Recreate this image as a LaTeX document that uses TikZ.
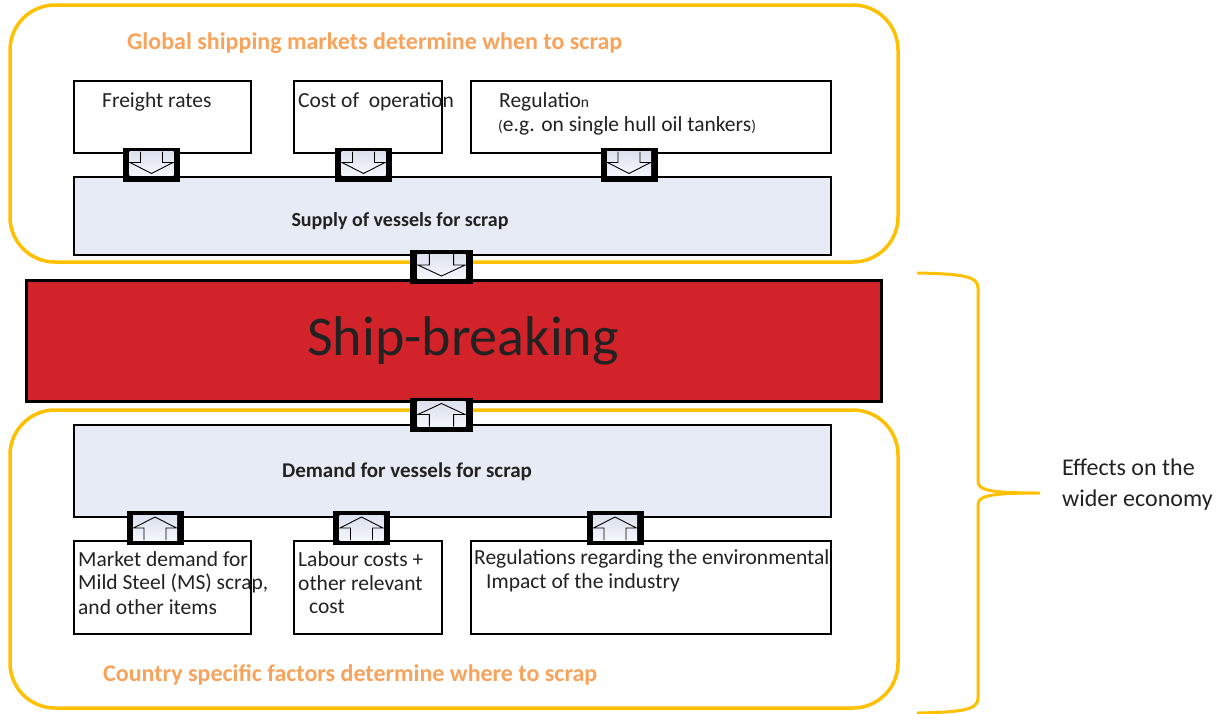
\documentclass[tikz,border=0pt]{standalone}
\usepackage{fontspec}
\setmainfont{Carlito}
\usetikzlibrary{calc}
\definecolor{gold}{RGB}{255,192,0}
\definecolor{orangetxt}{RGB}{248,163,92}
\definecolor{boxfill}{RGB}{231,235,245}
\definecolor{arrfill}{RGB}{220,225,238}
\definecolor{arrtop}{RGB}{244,246,251}
\definecolor{shipred}{RGB}{210,35,42}
\definecolor{txt}{RGB}{34,34,34}
\newcommand{\fsz}[1]{\fontsize{#1}{#1}\selectfont}
\tikzset{
  frame/.style={draw=gold, line width=3.5pt, rounded corners=45pt},
  factor/.style={draw=black, line width=1.8pt, fill=white, anchor=north west, inner sep=0pt},
  stage/.style={draw=black, line width=2pt, fill=boxfill, anchor=north west, inner sep=0pt},
  lbl/.style={anchor=west, inner sep=0pt, text=txt, font=\fsz{21.5}},
  ttl/.style={anchor=west, inner sep=0pt, text=orangetxt, font=\fsz{24}\bfseries},
  arrshade/.style={top color=arrfill, bottom color=arrtop},
  dnarr/.pic={
    \fill[black] (-28.5,-17) rectangle (28.5,17);
    \fill[arrshade] (-22,-13) rectangle (22,11);
    \draw[line width=0.9pt, arrshade, line join=miter]
      (-11,-13) -- (-11,-2) -- (-21.5,-2) -- (0,9) -- (21.5,-2) -- (11,-2) -- (11,-13);
  },
  uparr/.pic={
    \fill[black] (-28.5,-16) rectangle (28.5,18);
    \fill[arrshade] (-22,-12) rectangle (22,13);
    \draw[line width=0.9pt, arrshade, line join=miter]
      (-11,13) -- (-11,1) -- (-21.5,1) -- (0,-10) -- (21.5,1) -- (11,1) -- (11,13);
  }
}
\begin{document}
\begin{tikzpicture}[x=1pt,y=-1pt]
\useasboundingbox (0,0) rectangle (1219,713);
% frames
\draw[frame] (10,5) rectangle (898,262);
\draw[frame] (10,410) rectangle (898,708);
% titles
\node[ttl] (t1) at (127,43) {Global shipping markets determine when to scrap};
\node[ttl] (t2) at (103,675) {Country specific factors determine where to scrap};
% top factor boxes
\node[factor, minimum width=177pt, minimum height=72pt] (fr) at (73,80) {};
\node[factor, minimum width=148pt, minimum height=72pt] (co) at (293,80) {};
\node[factor, minimum width=360pt, minimum height=72pt] (rg) at (470,80) {};
\node[lbl] at (102,102) {Freight rates};
\node[lbl] at (298,102) {Cost of\ \ operation};
\node[lbl] at (499,102) {Regulatio{\fsz{15.5}n}};
\node[lbl] at (498,126) {{\fsz{15.5}(}e.g. on single hull oil tankers{\fsz{15.5})}};
% supply
\node[stage, minimum width=757pt, minimum height=78pt] (sup) at (73,176) {};
\node[inner sep=0pt, text=txt, font=\fsz{20}\bfseries] at (400,221) {Supply of vessels for scrap};
% ship-breaking
\node[draw=black, line width=2.5pt, fill=shipred, anchor=north west, inner sep=0pt,
      minimum width=855pt, minimum height=121pt] (sb) at (25,279) {};
\node[inner sep=0pt, text=txt, font=\fsz{56}] at (463,341) {Ship-breaking};
% demand
\node[stage, minimum width=757pt, minimum height=92pt] (dem) at (73,424) {};
\node[inner sep=0pt, text=txt, font=\fsz{21}\bfseries] at (407,472) {Demand for vessels for scrap};
% bottom factor boxes
\node[factor, minimum width=177pt, minimum height=93pt] (md) at (73,540) {};
\node[factor, minimum width=148pt, minimum height=93pt] (lc) at (293,540) {};
\node[factor, minimum width=360pt, minimum height=93pt] (er) at (470,540) {};
\node[lbl] at (78,559) {Market demand for};
\node[lbl] at (78,583) {Mild Steel (MS) scrap,};
\node[lbl] at (78,607) {and other items};
\node[lbl] at (298,559) {Labour costs +};
\node[lbl] at (298,583) {other relevant};
\node[lbl] at (309,607) {cost};
\node[lbl] at (474,559) {Regulations regarding the environmental};
\node[lbl] at (486,583) {Impact of the industry};
% block arrows
\pic at (151.5,164.5) {dnarr};
\pic at (363.5,164.5) {dnarr};
\pic at (629,164.5) {dnarr};
\pic[xscale=1.1] at (441.5,267) {dnarr};
\pic[xscale=1.1] at (441.5,413.5) {uparr};
\pic at (155,527) {uparr};
\pic at (361.5,527) {uparr};
\pic at (615,527) {uparr};
% brace
\draw[gold, line width=3pt, line cap=round]
  (918,273) .. controls (962,274) and (978,276) .. (978,288)
  -- (978,481) .. controls (978,490) and (988,493) .. (1040,493)
  .. controls (988,493) and (978,496) .. (978,505)
  -- (978,698) .. controls (978,710) and (962,712) .. (918,713);
\node[lbl, font=\fsz{24}] (eff) at (1062,467) {Effects on the};
\node[lbl, font=\fsz{24}] at (1062,500) {wider economy};
\end{tikzpicture}
\end{document}
